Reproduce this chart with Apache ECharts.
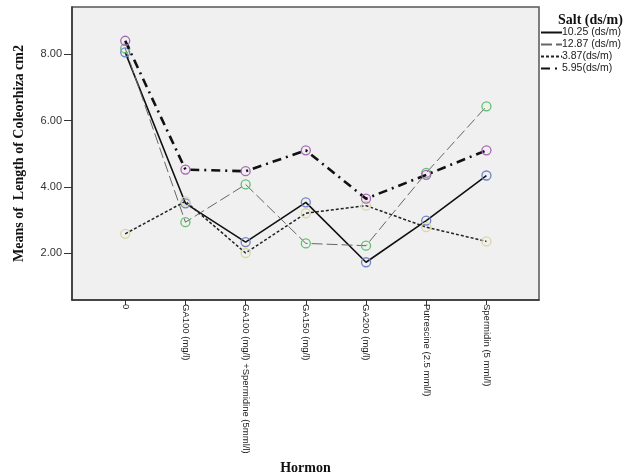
<!DOCTYPE html>
<html>
<head>
<meta charset="utf-8">
<script src="https://cdn.jsdelivr.net/npm/echarts@6/dist/echarts.min.js"></script>
<style>html,body{margin:0;padding:0;background:#fff;}#c{width:641px;height:476px;}</style>
</head>
<body>
<div id="c"></div>
<script>
var categories = ['0', 'GA100 (mg/l)', 'GA100 (mg/l) +Spermidine (5mml/l)', 'GA150 (mg/l)', 'GA200 (mg/l)', 'Putrescine (2.5 mml/l)', 'Spermidin (5 mml/l)'];
var seriesNames = ['10.25 (ds/m)', '12.87 (ds/m)', '3.87(ds/m)', '5.95(ds/m)'];
var salt1025 = [8.06, 3.50, 2.33, 3.53, 1.72, 2.98, 4.34];
var salt1287 = [8.18, 2.93, 4.07, 2.29, 2.22, 4.42, 6.43];
var salt387  = [2.58, 3.56, 2.00, 3.20, 3.43, 2.78, 2.35];
var salt595  = [8.41, 4.52, 4.47, 5.10, 3.64, 4.36, 5.10];
var yTicks = [2, 4, 6, 8];

var values = [salt1025, salt1287, salt387, salt595];
var markerColors = ['#6f82c8', '#5fc06f', '#d9d7a4', '#a866b6'];
var lineStyles = [
  {color: '#111', width: 1.6, type: 'solid'},
  {color: '#666', width: 1, type: [11, 4]},
  {color: '#222', width: 1.5, type: [3, 2]},
  {color: '#111', width: 2.6, type: [9, 5, 2, 5]}
];

var chart = echarts.init(document.getElementById('c'), null, {renderer: 'canvas'});
var series = values.map(function (vals, k) {
  return {
    name: seriesNames[k],
    type: 'line',
    data: vals.map(function (v, i) { return [i, v]; }),
    symbol: 'circle',
    symbolSize: 9,
    lineStyle: lineStyles[k],
    itemStyle: {color: 'rgba(0,0,0,0)', borderColor: markerColors[k], borderWidth: 1.3},
    emphasis: {disabled: true},
    z: 2 + k
  };
});

chart.setOption({
  animation: false,
  backgroundColor: '#ffffff',
  title: {
    text: 'Salt (ds/m)',
    left: 553, top: 8,
    textStyle: {fontFamily: 'Liberation Serif', fontWeight: 'bold', fontSize: 14, color: '#111'}
  },
  legend: {
    orient: 'vertical',
    left: 534, top: 25,
    padding: [2, 0, 0, 6],
    itemWidth: 21, itemHeight: 5, itemGap: 1,
    itemStyle: {opacity: 0},
    data: seriesNames,
    textStyle: {fontFamily: 'Liberation Sans', fontSize: 10.5, color: '#222', padding: [0, 0, 0, -5], lineHeight: 9.5, height: 9.5}
  },
  grid: {
    left: 72, right: 102, top: 7, bottom: 176,
    outerBoundsMode: 'none',
    containLabel: false,
    show: true, backgroundColor: '#f0f0f0', borderColor: '#555', borderWidth: 1.5
  },
  xAxis: {
    type: 'value',
    min: -0.884, max: 6.873,
    name: 'Hormon',
    nameLocation: 'middle',
    nameGap: 160,
    nameTextStyle: {fontFamily: 'Liberation Serif', fontWeight: 'bold', fontSize: 14, color: '#111'},
    axisLine: {show: true, onZero: false, lineStyle: {color: '#333', width: 1.5}},
    axisTick: {show: true, customValues: categories.map(function (c, i) { return i; }), length: 5, lineStyle: {color: '#333'}},
    axisLabel: {
      customValues: categories.map(function (c, i) { return i; }),
      rotate: -90, margin: 4,
      fontFamily: 'Liberation Sans', fontSize: 9.5, color: '#222',
      formatter: function (v) { return categories[Math.round(v)]; }
    },
    splitLine: {show: false}
  },
  yAxis: {
    type: 'value',
    min: 0.58, max: 9.43,
    name: 'Means of  Length of Coleorhiza cm2',
    nameLocation: 'middle',
    nameGap: 46,
    nameTextStyle: {fontFamily: 'Liberation Serif', fontWeight: 'bold', fontSize: 14, color: '#111'},
    axisLine: {show: true, onZero: false, lineStyle: {color: '#333', width: 1.5}},
    axisTick: {show: true, customValues: yTicks, length: 8, lineStyle: {color: '#333'}},
    axisLabel: {
      customValues: yTicks, margin: 10,
      fontFamily: 'Liberation Sans', fontSize: 11, color: '#333',
      formatter: function (v) { return v.toFixed(2); }
    },
    splitLine: {show: false}
  },
  series: series
});
</script>
</body>
</html>
